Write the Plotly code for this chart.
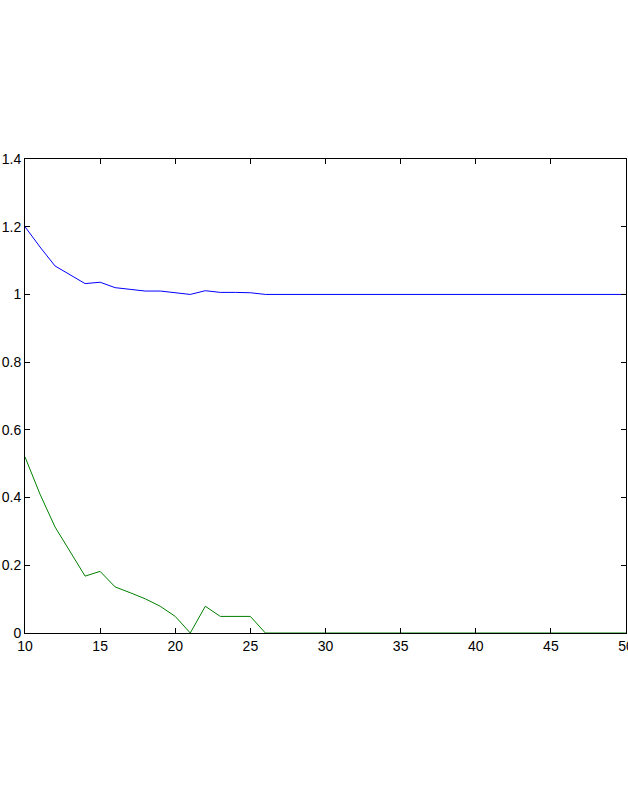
import plotly.graph_objects as go

# x positions (shared)
x_vals = list(range(10, 51))

# upper series (blue)
blue_vals = [1.20, 1.14, 1.084, 1.058, 1.032, 1.036, 1.020, 1.015, 1.010, 1.010,
             1.006, 1.000, 1.011, 1.006, 1.006, 1.005] + [1.0] * 25

# lower series (green)
green_vals = [0.52, 0.41, 0.313, 0.239, 0.168, 0.182, 0.136, 0.119, 0.101, 0.079,
              0.049, 0.0, 0.079, 0.049, 0.049, 0.049] + [0.0] * 25

x_ticks = [10, 15, 20, 25, 30, 35, 40, 45, 50]
y_ticks = [0, 0.2, 0.4, 0.6, 0.8, 1.0, 1.2, 1.4]
y_tick_text = ["0", "0.2", "0.4", "0.6", "0.8", "1", "1.2", "1.4"]

fig = go.Figure()
fig.add_trace(go.Scatter(x=x_vals, y=blue_vals, mode="lines",
                         line=dict(color="#0000ff", width=1)))
fig.add_trace(go.Scatter(x=x_vals, y=green_vals, mode="lines",
                         line=dict(color="#008000", width=1), cliponaxis=False))

axis_common = dict(
    showgrid=False, zeroline=False, automargin=False,
    showline=True, linecolor="black", linewidth=1, mirror="ticks",
    ticks="inside", ticklen=5, tickwidth=1, tickcolor="black",
    ticklabeloverflow="allow",
    tickfont=dict(family="Liberation Sans, Arial, sans-serif", size=14, color="black"),
)

fig.update_xaxes(range=[10, 50], tickvals=x_ticks, **axis_common)
fig.update_yaxes(range=[0, 1.4], tickvals=y_ticks, ticktext=y_tick_text, **axis_common)

fig.update_layout(
    width=628, height=811, autosize=False,
    margin=dict(l=25, r=2, t=159, b=178, autoexpand=False),
    showlegend=False,
    plot_bgcolor="white", paper_bgcolor="white",
)

# drop the page's default body margin so the figure sits at the window corner
fig.write_html("out.html", config={"displayModeBar": False},
               post_script="document.body.style.margin='0';document.body.style.overflow='hidden';")
